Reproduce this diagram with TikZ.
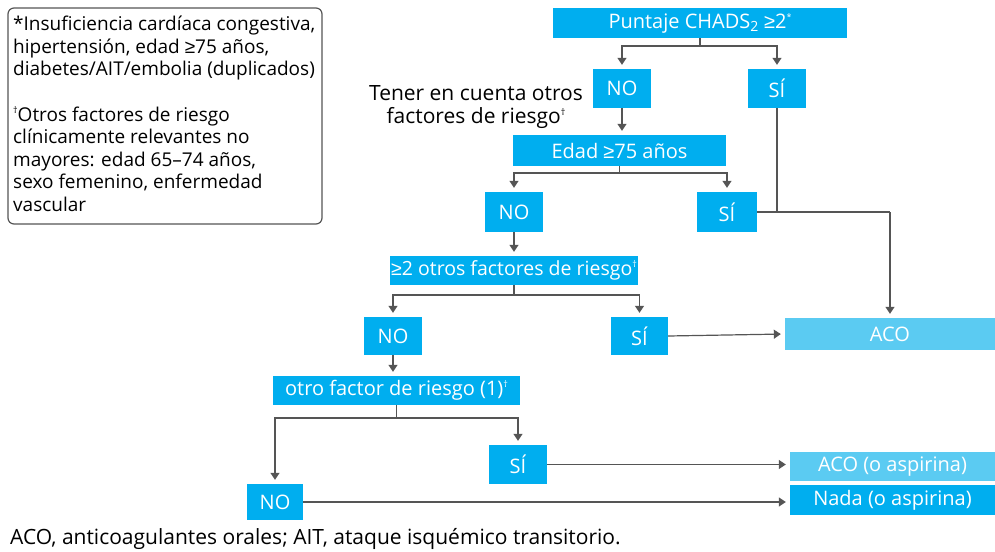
\documentclass[tikz,border=0pt]{standalone}
\usepackage{fontspec}
\setmainfont{Open Sans}
\newfontfamily\symfont{Liberation Sans}
\usetikzlibrary{arrows.meta}
\definecolor{boxblue}{HTML}{00AEEF}
\definecolor{lightblue}{HTML}{5BCBF2}
\definecolor{linegray}{HTML}{555555}
\newcommand{\gesign}{{\symfont ≥}}
\newcommand{\supmark}[1]{\raisebox{0.75ex}{\fontsize{9}{9}\selectfont #1}}
\begin{document}
\begin{tikzpicture}[x=1pt,y=-1pt,
  bbox/.style={fill=boxblue, text=white, inner sep=0pt, font=\fontsize{20}{22}\selectfont},
  lbox/.style={bbox, fill=lightblue},
  conn/.style={draw=linegray, line width=1.2pt},
  arr/.style={conn, -{Triangle[width=9pt,length=7pt]}, shorten >=4pt}
]
\useasboundingbox (0,0) rectangle (995,551);

% note box
\draw[rounded corners=6pt, draw=linegray, line width=1.2pt] (8,8) rectangle (322,224);
\node[anchor=north west, align=left, inner sep=0pt, font=\fontsize{19}{22.6}\selectfont] (note) at (13,16)
 {*Insuficiencia cardíaca congestiva,\\
  hipertensión, edad \gesign75 años,\\
  diabetes/AIT/embolia (duplicados)\\[22.6pt]
  \supmark{†}Otros factores de riesgo\\
  clínicamente relevantes no\\
  mayores: edad 65–74 años,\\
  sexo femenino, enfermedad\\
  vascular};

% boxes
\node[bbox, minimum width=294pt, minimum height=30pt] (chads) at (700,23)
  {Puntaje CHADS\textsubscript{2} \gesign2\supmark{*}};
\node[bbox, minimum width=58pt, minimum height=39pt] (no1) at (622,88.5) {NO};
\node[bbox, minimum width=58pt, minimum height=39pt] (si1) at (777,88.5) {SÍ};
\node[align=center, inner sep=0pt, font=\fontsize{21}{23}\selectfont] (tener) at (476,107)
  {Tener en cuenta otros\\ factores de riesgo\supmark{†}};
\node[bbox, minimum width=213pt, minimum height=31pt] (edad) at (619.5,150.5)
  {Edad \gesign75 años};
\node[bbox, minimum width=58pt, minimum height=40pt] (no2) at (514,212) {NO};
\node[bbox, minimum width=60pt, minimum height=40pt] (si2) at (727,212) {SÍ};
\node[bbox, minimum width=248pt, minimum height=29pt, font=\fontsize{19.5}{22}\selectfont] (otros) at (514,270.5)
  {\gesign2 otros factores de riesgo\supmark{†}};
\node[bbox, minimum width=58pt, minimum height=38pt] (no3) at (393,336) {NO};
\node[bbox, minimum width=57pt, minimum height=38pt] (si3) at (639.5,336) {SÍ};
\node[lbox, minimum width=210pt, minimum height=32pt] (aco) at (890,334) {ACO};
\node[bbox, minimum width=247pt, minimum height=29pt] (otro) at (396.5,390.5)
  {otro factor de riesgo (1)\supmark{†}};
\node[bbox, minimum width=58pt, minimum height=39pt] (si4) at (518,464.5) {SÍ};
\node[bbox, minimum width=56pt, minimum height=36pt] (no4) at (275,502) {NO};
\node[lbox, minimum width=205pt, minimum height=29pt] (acoasp) at (892.5,466.5) {ACO (o aspirina)};
\node[bbox, minimum width=205pt, minimum height=30pt] (nada) at (892.5,500) {Nada (o aspirina)};

\node[anchor=base west, inner sep=0pt, font=\fontsize{21}{23}\selectfont] (foot) at (10,544.5)
  {ACO, anticoagulantes orales; AIT, ataque isquémico transitorio.};

% connectors
\coordinate (b1) at (700,46);
\draw[conn] (chads.south) -- (b1);
\draw[arr] (b1) -| (no1.north);
\draw[arr] (b1) -| (si1.north);
\draw[arr] (no1.south) -- (no1.south |- edad.north);

\coordinate (b2) at (619.5,173);
\draw[conn] (edad.south) -- (b2);
\draw[arr] (b2) -| (no2.north);
\draw[arr] (b2) -| (si2.north);

\coordinate (j1) at (777,212);
\coordinate (j2) at (890,212);
\draw[conn] (si1.south) -- (j1);
\draw[conn] (si2.east) -- (j2);
\draw[arr] (j2) -- (aco.north);

\draw[arr] (no2.south) -- (otros.north);
\coordinate (b3) at (514,295);
\draw[conn] (otros.south) -- (b3);
\draw[arr] (b3) -| (no3.north);
\draw[arr] (b3) -| (si3.north);
\draw[arr] (si3.east) -- (aco.west);
\draw[arr] (no3.south) -- (no3.south |- otro.north);

\coordinate (b4) at (396.5,418);
\draw[conn] (otro.south) -- (b4);
\draw[arr] (b4) -| (no4.north);
\draw[arr] (b4) -| (si4.north);
\draw[arr] (si4.east) -- (si4.east -| acoasp.west);
\draw[arr] (no4.east) -- (no4.east -| nada.west);
\end{tikzpicture}
\end{document}
